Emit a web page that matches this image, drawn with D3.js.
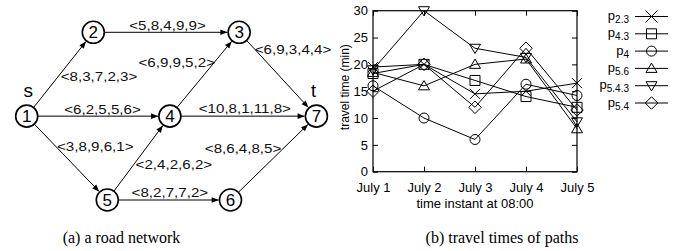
<!DOCTYPE html>
<html>
<head>
<meta charset="utf-8">
<script src="https://cdn.jsdelivr.net/npm/d3@7"></script>
<style>
  html, body { margin: 0; padding: 0; background: #fff; }
  svg { display: block; }
</style>
</head>
<body>
<svg id="fig" width="684" height="251"></svg>
<script>
// chart data
const days = ['July 1', 'July 2', 'July 3', 'July 4', 'July 5']
const yTicks = [0, 5, 10, 15, 20, 25, 30]
const pathSubs = ['2.3', '4.3', '4', '5.6', '5.4.3', '5.4']
const p23 = [19.5, 20, 14.5, 15, 16.5]
const p43 = [18.3, 20, 17, 14, 12]
const p4 = [16, 10, 6, 16.3, 14.2]
const p56 = [18.5, 16, 20, 21, 8]
const p543 = [19, 30, 23, 21.3, 9.3]
const p54 = [15, 20, 12, 23, 11.5]
const series = [p23, p43, p4, p56, p543, p54]
const symbols = ['cross', 'square', 'circle', 'up', 'down', 'diamond']

// road network data
const nodeIds = [1, 2, 3, 4, 5, 6, 7]
const edgeFrom = [1, 2, 1, 4, 3, 4, 1, 5, 6, 5]
const edgeTo = [2, 3, 4, 3, 7, 7, 5, 4, 7, 6]
const edgeTimes = ['8,3,7,2,3', '5,8,4,9,9', '6,2,5,5,6', '6,9,9,5,2', '6,9,3,4,4',
  '10,8,1,11,8', '3,8,9,6,1', '2,4,2,6,2', '8,6,4,8,5', '8,2,7,7,2']
const captions = ['(a) a road network', '(b) travel times of paths']

// network layout (grid units) and label offsets
const nodeCol = [0, 1, 3.19, 2.15, 1.21, 3.06, 4.35]
const nodeRow = [1, 0, 0, 1, 2, 2, 1]
const labelDx = [39, 1.3, 4.2, -27.8, 15.2, 1.7, 28.3, 35.3, -30.4, 1]
const labelDy = [2.5, -7.3, -7, -12, -25.4, -8.3, -11.8, 5.8, -9.8, -7.3]

const sans = 'Liberation Sans, Arial, Helvetica, sans-serif'
const serif = 'Liberation Serif, Times New Roman, serif'

const svg = d3.select('#fig')

// ---------- (a) road network ----------
const xNet = d3.scaleLinear().domain([0, 1]).range([26.7, 93.3])
const yNet = d3.scaleLinear().domain([0, 2]).range([32.3, 200])
const r = 11

svg.append('defs')
  .append('marker')
  .attr('id', 'arrow')
  .attr('markerUnits', 'userSpaceOnUse')
  .attr('viewBox', '-8 -4 9 8')
  .attr('refX', 0)
  .attr('refY', 0)
  .attr('markerWidth', 9)
  .attr('markerHeight', 8)
  .attr('orient', 'auto')
  .append('path')
  .attr('d', 'M-7,-2.8 L0,0 L-7,2.8 Z')
  .attr('fill', '#000')

const pos = id => {
  const i = nodeIds.indexOf(id)
  return [xNet(nodeCol[i]), yNet(nodeRow[i])]
}

const net = svg.append('g')

edgeFrom.forEach((f, i) => {
  const [x1, y1] = pos(f)
  const [x2, y2] = pos(edgeTo[i])
  const len = Math.hypot(x2 - x1, y2 - y1)
  const ux = (x2 - x1) / len
  const uy = (y2 - y1) / len
  net.append('line')
    .attr('x1', x1 + ux * r)
    .attr('y1', y1 + uy * r)
    .attr('x2', x2 - ux * (r + 0.8))
    .attr('y2', y2 - uy * (r + 0.8))
    .attr('stroke', '#000')
    .attr('stroke-width', 1)
    .attr('marker-end', 'url(#arrow)')

  const t = net.append('text')
    .attr('x', (x1 + x2) / 2 + labelDx[i])
    .attr('y', (y1 + y2) / 2 + labelDy[i] + 4.7)
    .attr('text-anchor', 'middle')
    .attr('font-family', sans)
    .attr('font-size', '13.5px')
    .attr('fill', '#111')
    .text(`<${edgeTimes[i]}>`)
  const w = t.node().getComputedTextLength()
  t.attr('textLength', w * 1.12).attr('lengthAdjust', 'spacingAndGlyphs')
})

nodeIds.forEach(id => {
  const [cx, cy] = pos(id)
  net.append('circle')
    .attr('cx', cx)
    .attr('cy', cy)
    .attr('r', r)
    .attr('fill', '#fff')
    .attr('stroke', '#000')
    .attr('stroke-width', 1.6)
  net.append('text')
    .attr('x', cx)
    .attr('y', cy)
    .attr('dy', '0.36em')
    .attr('text-anchor', 'middle')
    .attr('font-family', sans)
    .attr('font-size', '17px')
    .text(id)
})

net.append('text')
  .attr('x', pos(1)[0] + 1.5)
  .attr('y', 97)
  .attr('text-anchor', 'middle')
  .attr('font-family', sans)
  .attr('font-size', '19px')
  .text('s')
net.append('text')
  .attr('x', pos(7)[0] - 3)
  .attr('y', 97)
  .attr('text-anchor', 'middle')
  .attr('font-family', sans)
  .attr('font-size', '18px')
  .text('t')

// ---------- (b) travel times ----------
const margin = { top: 10.7, right: 107, bottom: 79.3, left: 373 }
const width = 684 - margin.left - margin.right
const height = 251 - margin.top - margin.bottom

const x = d3.scalePoint().domain(days).range([0, width])
const y = d3.scaleLinear().domain([0, 30]).range([height, 0])

const g = svg.append('g').attr('transform', `translate(${margin.left},${margin.top})`)

const styleAxis = sel => {
  sel.select('.domain').remove()
  sel.selectAll('line').attr('stroke', '#000')
  sel.selectAll('text')
    .attr('font-family', sans)
    .attr('font-size', '13px')
    .attr('fill', '#000')
}

g.append('g')
  .call(d3.axisLeft(y).tickValues(yTicks).tickSize(-5).tickPadding(5))
  .call(styleAxis)
g.append('g')
  .attr('transform', `translate(${width},0)`)
  .call(d3.axisRight(y).tickValues(yTicks).tickSize(-5).tickFormat(''))
  .call(styleAxis)
g.append('g')
  .attr('transform', `translate(0,${height})`)
  .call(d3.axisBottom(x).tickSize(-5).tickPadding(11))
  .call(styleAxis)
g.append('g')
  .call(d3.axisTop(x).tickSize(-5).tickFormat(''))
  .call(styleAxis)

g.append('rect')
  .attr('width', width)
  .attr('height', height)
  .attr('fill', 'none')
  .attr('stroke', '#000')
  .attr('stroke-width', 1.2)

g.append('text')
  .attr('transform', `translate(${-24},${height / 2 - 4}) rotate(-90)`)
  .attr('text-anchor', 'middle')
  .attr('font-family', sans)
  .attr('font-size', '12px')
  .text('travel time (min)')

g.append('text')
  .attr('x', width / 2)
  .attr('y', height + 36.3)
  .attr('text-anchor', 'middle')
  .attr('font-family', sans)
  .attr('font-size', '13px')
  .text('time instant at 08:00')

const symbolPath = (type, s) => {
  switch (type) {
    case 'cross':
      return `M${-s},${-s}L${s},${s}M${-s},${s}L${s},${-s}`
    case 'square':
      return `M${-s},${-s}H${s}V${s}H${-s}Z`
    case 'up':
      return `M0,${-s * 1.05}L${s * 1.1},${s * 0.8}L${-s * 1.1},${s * 0.8}Z`
    case 'down':
      return `M0,${s * 1.05}L${s * 1.1},${-s * 0.8}L${-s * 1.1},${-s * 0.8}Z`
    case 'diamond':
      return `M0,${-s * 1.25}L${s * 1.25},0L0,${s * 1.25}L${-s * 1.25},0Z`
    default:
      return ''
  }
}

const drawSymbol = (sel, type, cx, cy, s) => {
  if (type === 'circle') {
    sel.append('circle')
      .attr('cx', cx)
      .attr('cy', cy)
      .attr('r', s)
      .attr('fill', 'none')
      .attr('stroke', '#000')
  } else {
    sel.append('path')
      .attr('transform', `translate(${cx},${cy})`)
      .attr('d', symbolPath(type, s))
      .attr('fill', 'none')
      .attr('stroke', '#000')
  }
}

const line = d3.line()
  .x((d, i) => x(days[i]))
  .y(d => y(d))

series.forEach((vals, k) => {
  g.append('path')
    .datum(vals)
    .attr('d', line)
    .attr('fill', 'none')
    .attr('stroke', '#000')
    .attr('stroke-width', 1)
  vals.forEach((v, i) => drawSymbol(g, symbols[k], x(days[i]), y(v), 5))
})

// legend
const legend = svg.append('g').attr('transform', 'translate(629, 16.5)')
pathSubs.forEach((sub, k) => {
  const row = legend.append('g').attr('transform', `translate(0,${k * 17.3})`)
  const t = row.append('text')
    .attr('y', 3.6)
    .attr('text-anchor', 'end')
    .attr('font-family', sans)
    .attr('font-size', '13px')
  t.append('tspan').text('p')
  t.append('tspan')
    .attr('dy', 3)
    .attr('font-size', '10px')
    .text(sub)
  row.append('line')
    .attr('x1', 6)
    .attr('x2', 39)
    .attr('stroke', '#000')
  drawSymbol(row, symbols[k], 22.5, 0, symbols[k] === 'cross' ? 6 : 5)
})

// captions
svg.selectAll('.caption')
  .data(captions)
  .enter()
  .append('text')
  .attr('class', 'caption')
  .attr('x', (d, i) => (i === 0 ? 121.5 : 502))
  .attr('y', 243)
  .attr('text-anchor', 'middle')
  .attr('font-family', serif)
  .attr('font-size', '16px')
  .text(d => d)
</script>
</body>
</html>
